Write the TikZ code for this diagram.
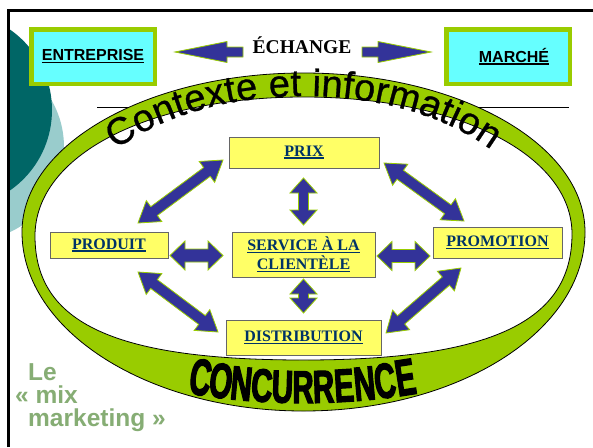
\documentclass[tikz,border=0pt]{standalone}
\usepackage{fontspec}
\setmainfont{Liberation Serif}
\setsansfont{Liberation Sans}
\newfontfamily\arcfont[FakeBold=0.8]{Liberation Sans}
\newfontfamily\concfont[FakeStretch=0.64,FakeBold=2.5]{Liberation Sans}
\usetikzlibrary{calc,decorations.text}

\definecolor{ringgreen}{HTML}{99CC00}
\definecolor{arrowblue}{HTML}{333399}
\definecolor{boxyellow}{HTML}{FFFF66}
\definecolor{boxcyan}{HTML}{66FFFF}
\definecolor{navy}{HTML}{003366}
\definecolor{tealdark}{HTML}{006666}
\definecolor{teallight}{HTML}{99CCCC}
\definecolor{sidegreen}{HTML}{86AD74}

% underlined label
\newcommand\ulin[1]{\setbox0=\hbox{#1}\rlap{\rule[-2.6pt]{\wd0}{1.6pt}}\box0}
% block arrows: ends, head length, head half width, shaft half width
\newcommand\dblarrow[5]{%
  \filldraw[blockarrow] (#1)
    -- ($(#1)!#3!(#2)!#4!90:(#2)$) -- ($(#1)!#3!(#2)!#5!90:(#2)$)
    -- ($(#2)!#3!(#1)!#5!-90:(#1)$) -- ($(#2)!#3!(#1)!#4!-90:(#1)$)
    -- (#2)
    -- ($(#2)!#3!(#1)!#4!90:(#1)$) -- ($(#2)!#3!(#1)!#5!90:(#1)$)
    -- ($(#1)!#3!(#2)!#5!-90:(#2)$) -- ($(#1)!#3!(#2)!#4!-90:(#2)$)
    -- cycle;}
\newcommand\sglarrow[5]{%
  \filldraw[blockarrow] ($(#1)!#5!90:(#2)$)
    -- ($(#2)!#3!(#1)!#5!-90:(#1)$) -- ($(#2)!#3!(#1)!#4!-90:(#1)$)
    -- (#2)
    -- ($(#2)!#3!(#1)!#4!90:(#1)$) -- ($(#2)!#3!(#1)!#5!90:(#1)$)
    -- ($(#1)!#5!-90:(#2)$) -- cycle;}

\begin{document}
\begin{tikzpicture}[x=1pt,y=-1pt,
    mixbox/.style={draw=black!60, line width=1pt, fill=boxyellow, text=navy,
      font=\bfseries\fontsize{16}{19}\selectfont, inner sep=0pt, align=center},
    endbox/.style={draw=ringgreen, line width=4.5pt, fill=boxcyan,
      font=\sffamily\bfseries\fontsize{16}{19}\selectfont, inner sep=0pt,
      minimum width=123.5pt, minimum height=54.5pt},
    blockarrow/.style={fill=arrowblue, draw=ringgreen, line width=0.8pt},
    ring/.style={draw=black, line width=0.8pt},
    conc/.style={anchor=base, inner sep=0pt,
      font=\concfont\bfseries\fontsize{46}{46}\selectfont},
    sidetext/.style={align=left, text=sidegreen, inner sep=0pt,
      font=\sffamily\bfseries\fontsize{24.5}{23}\selectfont}]
    \useasboundingbox (0,0) rectangle (593,447);
    \fill[white] (0,0) rectangle (593,447);

    % slide decoration
    \begin{scope}
        \clip (9,11) rectangle (150,447);
        \fill[teallight] (-30,147) circle[radius=94];
        \fill[tealdark] (-46,110) circle[radius=98];
    \end{scope}
    \draw[line width=2.6pt] (8.7,447) -- (8.7,10.7) -- (593,10.7);
    \draw[line width=0.8pt] (97,107) -- (569,107);

    % green ring
    \path[ring, fill=ringgreen] (22,232)
        .. controls (22,144.2) and (148.1,73) .. (303.5,73)
        .. controls (458.9,73) and (585,144.2) .. (585,232)
        .. controls (585,330.8) and (458.9,411) .. (303.5,411)
        .. controls (148.1,411) and (22,330.8) .. (22,232) -- cycle;
    \path[ring, fill=white] (35,236)
        .. controls (35,155.4) and (147.8,97) .. (303.5,97)
        .. controls (459.2,97) and (572,155.4) .. (572,234)
        .. controls (572,321.5) and (491.5,360) .. (303.5,360)
        .. controls (115.5,360) and (35,323.5) .. (35,236) -- cycle;

    \path[decorate, decoration={text along path, text align=fit to path,
        text={|\arcfont\fontsize{38}{38}\selectfont|Contexte et information}}]
        ($(303.5,236)+(218:238 and 140)$)
        arc[start angle=218, end angle=322, x radius=238, y radius=140];

    \foreach \ch [count=\i] in {C,O,N,C,U,R,R,E,N,C,E} {
        \pgfmathsetmacro\cx{198+21*(\i-1)}
        \pgfmathsetmacro\cy{403-0.00073*(\cx-303)^2}
        \pgfmathsetmacro\rot{atan(0.00146*(\cx-303))}
        \pgfmathsetmacro\sy{1+0.12*((\cx-303)/105)^2}
        \node[conc, rotate=\rot, yscale=\sy] (conc-\i) at (\cx,\cy) {\ch};
    }

    % exchange
    \node[endbox] (entreprise) at (93,56.5) {\ulin{ENTREPRISE}};
    \node[endbox] (marche) at (508,56.5) {\hspace*{12pt}\ulin{MARCHÉ}};
    \node[anchor=base, inner sep=0pt, font=\bfseries\fontsize{19.5}{20}\selectfont]
        (echange) at (302,53.3) {ÉCHANGE};
    \coordinate (ech-w) at (243,52);
    \coordinate (ent-pt) at (175,52);
    \coordinate (ech-e) at (362,52);
    \coordinate (mar-pt) at (431,52);
    \sglarrow{ech-w}{ent-pt}{52pt}{10.5pt}{5pt}
    \sglarrow{ech-e}{mar-pt}{53pt}{10.5pt}{5pt}

    % the mix
    \node[mixbox, minimum width=150pt, minimum height=31pt] (prix) at (304,152.5) {\ulin{PRIX}};
    \node[mixbox, minimum width=118pt, minimum height=26pt] (produit) at (109,245) {\ulin{PRODUIT}};
    \node[mixbox, minimum width=143pt, minimum height=45pt] (service) at (303.5,254.5)
        {\ulin{SERVICE À LA}\\\ulin{CLIENTÈLE}};
    \node[mixbox, minimum width=129pt, minimum height=31pt] (promotion) at (497.5,242.5) {\ulin{PROMOTION}};
    \node[mixbox, minimum width=155pt, minimum height=35pt] (distribution) at (303.5,337.5) {\ulin{DISTRIBUTION}};

    \coordinate (prix-w) at (223,160);   \coordinate (prod-n) at (138,223);
    \coordinate (prix-e) at (384,163);   \coordinate (promo-n) at (464,221);
    \coordinate (prix-s) at (303.5,178); \coordinate (serv-n) at (303.5,225);
    \coordinate (prod-e) at (170,255.5); \coordinate (serv-w) at (223,255.5);
    \coordinate (serv-e) at (377,256);   \coordinate (promo-w) at (430,256);
    \coordinate (serv-s) at (303.5,279); \coordinate (dist-n) at (303.5,313);
    \coordinate (prod-s) at (138,272);   \coordinate (dist-w) at (218,332);
    \coordinate (promo-s) at (461,268);  \coordinate (dist-e) at (386,333);
    \foreach \a/\b/\h/\w/\s in {prix-w/prod-n/20pt/13pt/5.5pt, prix-e/promo-n/20pt/13pt/5.5pt,
        prod-s/dist-w/20pt/13pt/5.5pt, promo-s/dist-e/20pt/13pt/5.5pt,
        prix-s/serv-n/15pt/13.5pt/5pt, serv-s/dist-n/15pt/13.5pt/5pt,
        prod-e/serv-w/15pt/14.5pt/6.5pt, serv-e/promo-w/15pt/14.5pt/6.5pt}
        \dblarrow{\a}{\b}{\h}{\w}{\s};

    \node[sidetext, anchor=north west] (mix) at (28,363)
        {Le\\\hspace*{-13pt}«~mix\\marketing~»};
\end{tikzpicture}
\end{document}
